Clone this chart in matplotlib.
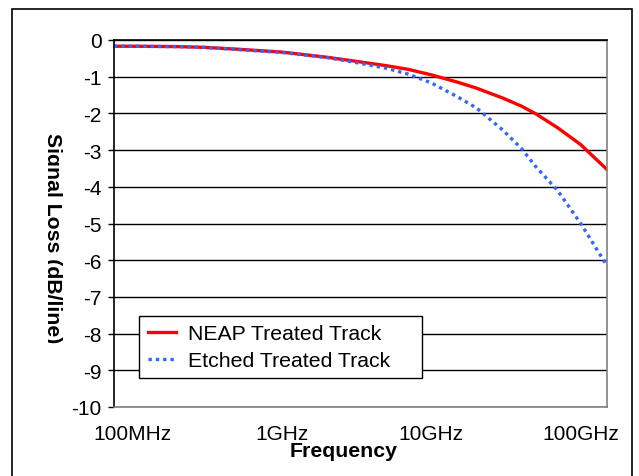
import matplotlib
matplotlib.use("Agg")
import matplotlib.pyplot as plt
from matplotlib.patches import Rectangle
from matplotlib.ticker import FixedLocator, NullLocator
from matplotlib.transforms import Bbox

plt.rcParams['font.family'] = ['Liberation Sans', 'DejaVu Sans']

# frequency in GHz, loss in dB/line
freq_ghz = [0.075, 0.1, 0.2, 0.3, 0.5, 1, 2, 3, 5, 7, 10, 15, 20, 30, 40, 50, 70, 100, 150]
neap = [-0.17, -0.17, -0.18, -0.20, -0.25, -0.33, -0.47, -0.57, -0.70, -0.80,
        -0.95, -1.15, -1.31, -1.58, -1.80, -2.01, -2.39, -2.85, -3.53]
etched = [-0.17, -0.17, -0.18, -0.20, -0.26, -0.34, -0.48, -0.60, -0.77, -0.93,
          -1.17, -1.55, -1.85, -2.45, -2.95, -3.45, -4.10, -5.00, -6.15]

xtick_vals = [0.1, 1, 10, 100]
xtick_labels = ['100MHz', '1GHz', '10GHz', '100GHz']
yticks = list(range(0, -11, -1))

W, H = 639, 477
fig = plt.figure(figsize=(W / 100, H / 100), dpi=100)
ax = fig.add_axes([114 / W, 1 - 408 / H, (607 - 114) / W, (408 - 41) / H])

ax.plot(freq_ghz, neap, color='#ff0000', lw=2.4, label='NEAP Treated Track')
ax.plot(freq_ghz, etched, color='#3366ff', lw=2.4, linestyle=(0, (1, 1.2)),
        label='Etched Treated Track')

ax.set_xscale('log')
ax.set_xlim(0.075, 150)
ax.set_ylim(-10, 0)
ax.xaxis.set_major_locator(FixedLocator(xtick_vals))
ax.xaxis.set_minor_locator(NullLocator())
ax.set_xticklabels(xtick_labels)
ax.set_yticks(yticks)
ax.set_yticklabels([str(v) for v in yticks])
ax.tick_params(axis='x', length=0, pad=12, labelsize=15)
ax.tick_params(axis='y', length=4, width=1, direction='out', pad=5, labelsize=15)

ax.yaxis.grid(True, color='black', lw=1)
ax.set_axisbelow(True)
for side in ['left', 'top']:
    ax.spines[side].set_color('black')
for side in ['right', 'bottom']:
    ax.spines[side].set_color('#808080')
for s in ax.spines.values():
    s.set_linewidth(1.2)

fig.text(344 / W, 1 - 457 / H, 'Frequency', fontsize=15.3, fontweight='bold',
         ha='center', va='baseline')
ylab = fig.text(52 / W, 1 - 238 / H, 'Signal Loss (dB/line)', fontsize=15.3,
                fontweight='bold', rotation=270, ha='center', va='center')
# the label is cut on its left side in the original
ylab.set_clip_box(Bbox([[48, 0], [W, H]]))

leg = ax.legend(loc='upper left',
                bbox_to_anchor=(139 / W, 1 - 378 / H, (422 - 139) / W, (378 - 317) / H),
                bbox_transform=fig.transFigure, mode='expand', fancybox=False,
                framealpha=1, edgecolor='black', fontsize=15.3, handlelength=1.35,
                handletextpad=0.55, borderpad=0.4, labelspacing=0.35,
                borderaxespad=0)
leg.get_frame().set_linewidth(1)

fig.patches.append(Rectangle((12 / W, -0.1), (632 - 12) / W, 1.1 - 10 / H,
                             transform=fig.transFigure, fill=False,
                             edgecolor='black', lw=1.2))

fig.savefig('out.png', dpi=100)
